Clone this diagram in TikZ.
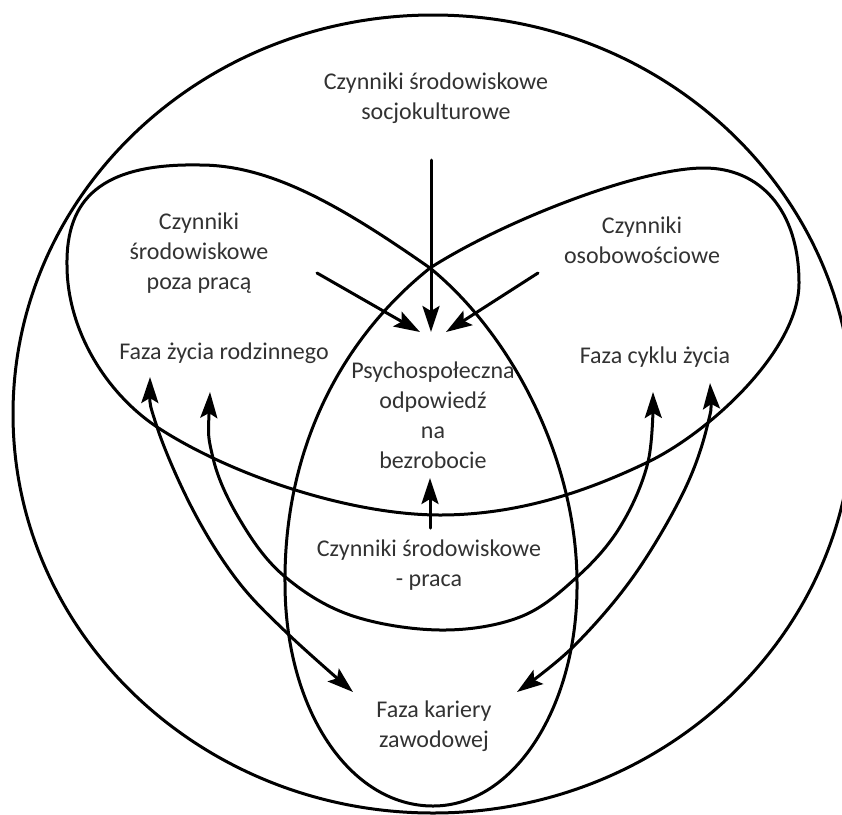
\documentclass[tikz,border=0pt]{standalone}
\usepackage{fontspec}
\setmainfont{Carlito}
\usetikzlibrary{arrows.meta}
\definecolor{txt}{RGB}{50,50,50}
\begin{document}
\begin{tikzpicture}[x=1pt,y=-1pt,
  line/.style={line width=3pt, line cap=round, line join=round},
  tip/.tip={Stealth[length=26pt,width=17pt,inset=5pt]},
  arr/.style={line, -tip},
  darr/.style={line, tip-tip},
  lbl/.style={align=center, inner sep=0pt, text=txt, font=\fontsize{24}{30}\selectfont}]
\useasboundingbox (0,0) rectangle (842,814);

% outer circle
\draw[line] (433,414) ellipse [x radius=420, y radius=399];

% heart-shaped double lobe
\draw[line] (430,268) .. controls (340,205) and (270,165) .. (200,165)
  .. controls (100,163) and (66,200) .. (67,265)
  .. controls (67,330) and (106,393) .. (157,427)
  .. controls (230,475) and (350,515) .. (440,515)
  .. controls (520,515) and (590,490) .. (648,462)
  .. controls (710,432) and (799,350) .. (799,283)
  .. controls (799,210) and (760,168) .. (704,168)
  .. controls (640,168) and (505,220) .. (430,268);

% teardrop
\draw[line] (430,268) .. controls (340,340) and (284,450) .. (285,583)
  .. controls (285,710) and (350,806) .. (433,806)
  .. controls (515,806) and (578,705) .. (577,583)
  .. controls (577,460) and (512,335) .. (430,268);

% labels
\node[lbl] (soc) at (436,98.25) {Czynniki środowiskowe\\socjokulturowe};
\node[lbl] (poza) at (199,253.25) {Czynniki\\środowiskowe\\poza pracą};
\node[lbl] (rodz) at (224,353.25) {Faza życia rodzinnego};
\node[lbl] (osob) at (642,240.25) {Czynniki\\osobowościowe};
\node[lbl] (cykl) at (655,357.25) {Faza cyklu życia};
\node[lbl] (psy) at (433,415.25) {Psychospołeczna\\odpowiedź\\na\\bezrobocie};
\node[lbl] (prac) at (429,565.25) {Czynniki środowiskowe\\- praca};
\node[lbl] (kar) at (434,726.25) {Faza kariery\\zawodowej};

% arrow end points
\coordinate (socS) at (431,160);
\coordinate (socE) at (431,332);
\coordinate (pozaS) at (317,273);
\coordinate (pozaE) at (420,332);
\coordinate (osobS) at (538,273);
\coordinate (osobE) at (446,332);
\coordinate (pracS) at (430,528);
\coordinate (pracE) at (430,478);
\coordinate (rodzA) at (150,377);
\coordinate (rodzB) at (210,392);
\coordinate (cyklA) at (653,392);
\coordinate (cyklB) at (710,383);
\coordinate (karL) at (353,692);
\coordinate (karR) at (517,692);

\draw[arr] (socS) -- (socE);
\draw[arr] (pozaS) -- (pozaE);
\draw[arr] (osobS) -- (osobE);
\draw[arr] (pracS) -- (pracE);

% curved double arrows
\draw[darr] plot[smooth, tension=0.6] coordinates {
 (rodzA) (157,427) (193,510) (237,580) (287,633) (karL)};
\draw[darr] plot[smooth, tension=0.6] coordinates {
 (cyklB) (707,427) (683,493) (633,577) (573,647) (karR)};
\draw[darr] plot[smooth, tension=0.6] coordinates {
 (rodzB) (213,458) (240,520) (283,575) (350,615) (440,630) (520,617) (577,577) (620,527) (648,462) (cyklA)};
\end{tikzpicture}
\end{document}
